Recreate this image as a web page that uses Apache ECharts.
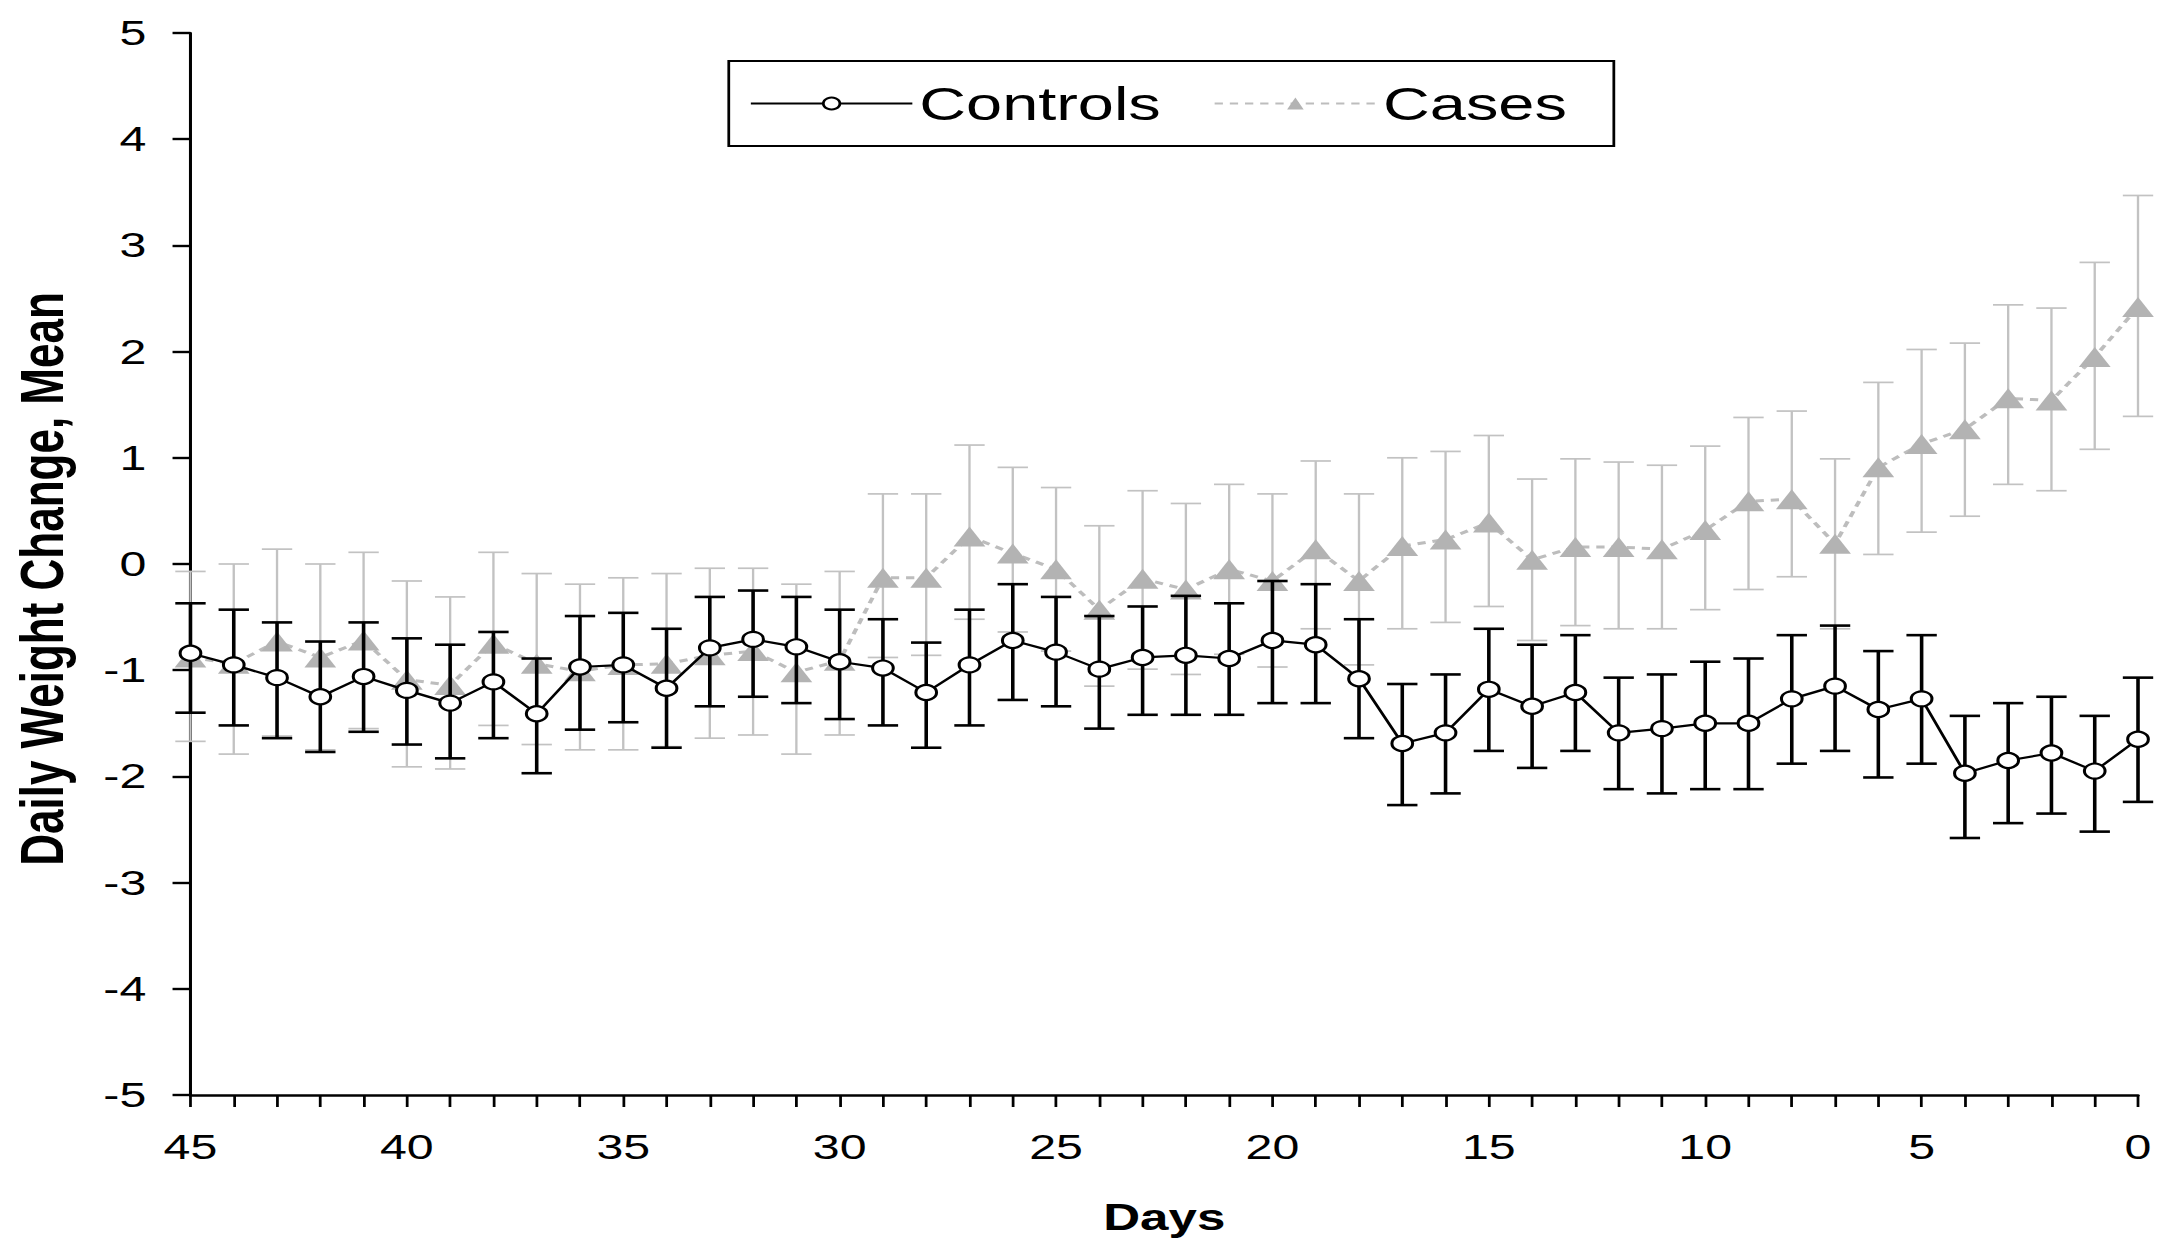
<!DOCTYPE html>
<html>
<head>
<meta charset="utf-8">
<script src="https://cdn.jsdelivr.net/npm/echarts@6/dist/echarts.min.js"></script>
<style>
html, body { margin: 0; padding: 0; background: #fff; overflow: hidden; }
#chart { width: 1570px; height: 1242px; transform: scaleX(1.38025); transform-origin: 0 0; }
</style>
</head>
<body>
<div id="chart"></div>
<script>
// Days before event (x axis, reversed 45 -> 0)
var days = [45,44,43,42,41,40,39,38,37,36,35,34,33,32,31,30,29,28,27,26,25,24,23,22,21,20,19,18,17,16,15,14,13,12,11,10,9,8,7,6,5,4,3,2,1,0];

// Controls: mean and error-bar limits
var controlsMean = [-0.84,-0.95,-1.07,-1.25,-1.06,-1.19,-1.31,-1.11,-1.41,-0.97,-0.95,-1.17,-0.79,-0.71,-0.78,-0.92,-0.98,-1.21,-0.95,-0.72,-0.83,-0.99,-0.88,-0.86,-0.89,-0.72,-0.76,-1.08,-1.69,-1.59,-1.18,-1.34,-1.21,-1.59,-1.55,-1.50,-1.50,-1.27,-1.15,-1.37,-1.27,-1.97,-1.85,-1.78,-1.95,-1.65];
var controlsUpper = [-0.37,-0.43,-0.55,-0.73,-0.55,-0.70,-0.76,-0.64,-0.89,-0.49,-0.46,-0.61,-0.31,-0.25,-0.31,-0.43,-0.52,-0.74,-0.43,-0.19,-0.31,-0.49,-0.40,-0.30,-0.37,-0.16,-0.19,-0.52,-1.13,-1.04,-0.61,-0.76,-0.67,-1.07,-1.04,-0.92,-0.89,-0.67,-0.58,-0.82,-0.67,-1.43,-1.31,-1.25,-1.43,-1.07];
var controlsLower = [-1.40,-1.52,-1.64,-1.77,-1.58,-1.70,-1.83,-1.64,-1.97,-1.56,-1.49,-1.73,-1.34,-1.25,-1.31,-1.46,-1.52,-1.73,-1.52,-1.28,-1.34,-1.55,-1.42,-1.42,-1.42,-1.31,-1.31,-1.64,-2.27,-2.16,-1.76,-1.92,-1.76,-2.12,-2.16,-2.12,-2.12,-1.88,-1.76,-2.01,-1.88,-2.58,-2.44,-2.35,-2.52,-2.24];

// Cases: mean and error-bar limits
var casesMean = [-0.88,-0.94,-0.73,-0.88,-0.72,-1.09,-1.14,-0.75,-0.94,-1.01,-0.95,-0.94,-0.86,-0.82,-1.02,-0.91,-0.13,-0.13,0.26,0.10,-0.05,-0.43,-0.14,-0.24,-0.05,-0.16,0.14,-0.16,0.17,0.23,0.39,0.04,0.16,0.16,0.14,0.32,0.59,0.61,0.19,0.91,1.13,1.27,1.56,1.54,1.95,2.42];
var casesUpper = [-0.07,0.00,0.14,0.00,0.11,-0.16,-0.31,0.11,-0.09,-0.19,-0.13,-0.09,-0.04,-0.04,-0.19,-0.07,0.66,0.66,1.12,0.91,0.72,0.36,0.69,0.57,0.75,0.66,0.97,0.66,1.00,1.06,1.21,0.80,0.99,0.96,0.93,1.11,1.38,1.44,0.99,1.71,2.02,2.08,2.44,2.41,2.84,3.47];
var casesLower = [-1.67,-1.79,-1.62,-1.75,-1.55,-1.91,-1.93,-1.52,-1.70,-1.75,-1.75,-1.72,-1.64,-1.61,-1.79,-1.61,-0.88,-0.86,-0.52,-0.64,-0.82,-1.15,-0.99,-1.04,-0.85,-0.97,-0.61,-0.95,-0.61,-0.55,-0.40,-0.72,-0.58,-0.61,-0.61,-0.43,-0.24,-0.12,-0.61,0.09,0.30,0.45,0.75,0.69,1.08,1.39];

var seriesNames = ['Controls', 'Cases'];
var xTitle = 'Days';
var yTitle = 'Daily Weight Change, Mean';

var FONT = "'Liberation Sans', Arial, Helvetica, sans-serif";
var GRAY_MARK = '#b3b3b3';
var GRAY_BAR = '#c2c2c2';

function pairs(xs, ys) { return xs.map(function (x, i) { return [x, ys[i]]; }); }
function triples(xs, lo, hi) { return xs.map(function (x, i) { return [x, lo[i], hi[i]]; }); }

function errorBars(color, width, capW) {
  return function (params, api) {
    var x = api.value(0);
    var pLo = api.coord([x, api.value(1)]);
    var pHi = api.coord([x, api.value(2)]);
    var h = capW / 2;
    var st = { stroke: color, lineWidth: width };
    return {
      type: 'group',
      children: [
        { type: 'line', shape: { x1: pHi[0], y1: pHi[1], x2: pLo[0], y2: pLo[1] }, style: st },
        { type: 'line', shape: { x1: pHi[0] - h, y1: pHi[1], x2: pHi[0] + h, y2: pHi[1] }, style: st },
        { type: 'line', shape: { x1: pLo[0] - h, y1: pLo[1], x2: pLo[0] + h, y2: pLo[1] }, style: st }
      ]
    };
  };
}

var chart = echarts.init(document.getElementById('chart'), null, { renderer: 'svg' });
chart.setOption({
  animation: false,
  backgroundColor: '#ffffff',
  grid: { left: 138, right: 21, top: 33, bottom: 147, containLabel: false },
  legend: {
    data: seriesNames,
    left: 528,
    top: 61,
    orient: 'horizontal',
    itemWidth: 117,
    itemHeight: 15,
    itemGap: 38,
    padding: [19, 34, 19, 15],
    borderColor: '#000',
    borderWidth: 2,
    textStyle: { fontFamily: FONT, fontSize: 47, color: '#000' }
  },
  xAxis: {
    type: 'value',
    min: 0, max: 45, interval: 5,
    inverse: true,
    name: xTitle,
    nameLocation: 'middle',
    nameGap: 104,
    nameTextStyle: { fontFamily: FONT, fontWeight: 'bold', fontSize: 37, color: '#000' },
    axisLine: { onZero: false, lineStyle: { color: '#000', width: 2.5 } },
    axisTick: { show: true, length: 12, lineStyle: { color: '#000', width: 2 } },
    minorTick: { show: true, splitNumber: 5, length: 12, lineStyle: { color: '#000', width: 2 } },
    splitLine: { show: false },
    minorSplitLine: { show: false },
    axisLabel: { margin: 34, fontFamily: FONT, fontSize: 35, color: '#000' }
  },
  yAxis: {
    type: 'value',
    min: -5, max: 5, interval: 1,
    name: yTitle,
    nameLocation: 'middle',
    nameRotate: 90,
    nameGap: 86,
    nameTextStyle: { fontFamily: FONT, fontWeight: 'bold', fontSize: 44, color: '#000', padding: [0, 30, 0, 0] },
    axisLine: { onZero: false, lineStyle: { color: '#000', width: 2.2 } },
    axisTick: { show: true, length: 13, lineStyle: { color: '#000', width: 2.4 } },
    splitLine: { show: false },
    axisLabel: { margin: 32, fontFamily: FONT, fontSize: 35, color: '#000' }
  },
  series: [
    {
      name: 'Cases error',
      type: 'custom',
      renderItem: errorBars(GRAY_BAR, 1.7, 22),
      data: triples(days, casesLower, casesUpper),
      encode: { x: 0, y: [1, 2] },
      clip: false,
      z: 1
    },
    {
      name: seriesNames[1],
      type: 'line',
      data: pairs(days, casesMean),
      symbol: 'triangle',
      symbolSize: [23, 20],
      lineStyle: { color: '#bdbdbd', width: 3, type: [6, 5] },
      itemStyle: { color: GRAY_MARK, borderColor: GRAY_MARK, borderWidth: 0 },
      z: 2
    },
    {
      name: 'Controls error',
      type: 'custom',
      renderItem: errorBars('#000', 2.6, 22),
      data: triples(days, controlsLower, controlsUpper),
      encode: { x: 0, y: [1, 2] },
      clip: false,
      z: 3
    },
    {
      name: seriesNames[0],
      type: 'line',
      data: pairs(days, controlsMean),
      symbol: 'circle',
      symbolSize: 15,
      lineStyle: { color: '#000', width: 2.2 },
      itemStyle: { color: '#fff', borderColor: '#000', borderWidth: 2.2 },
      z: 4
    }
  ]
});
</script>
</body>
</html>
